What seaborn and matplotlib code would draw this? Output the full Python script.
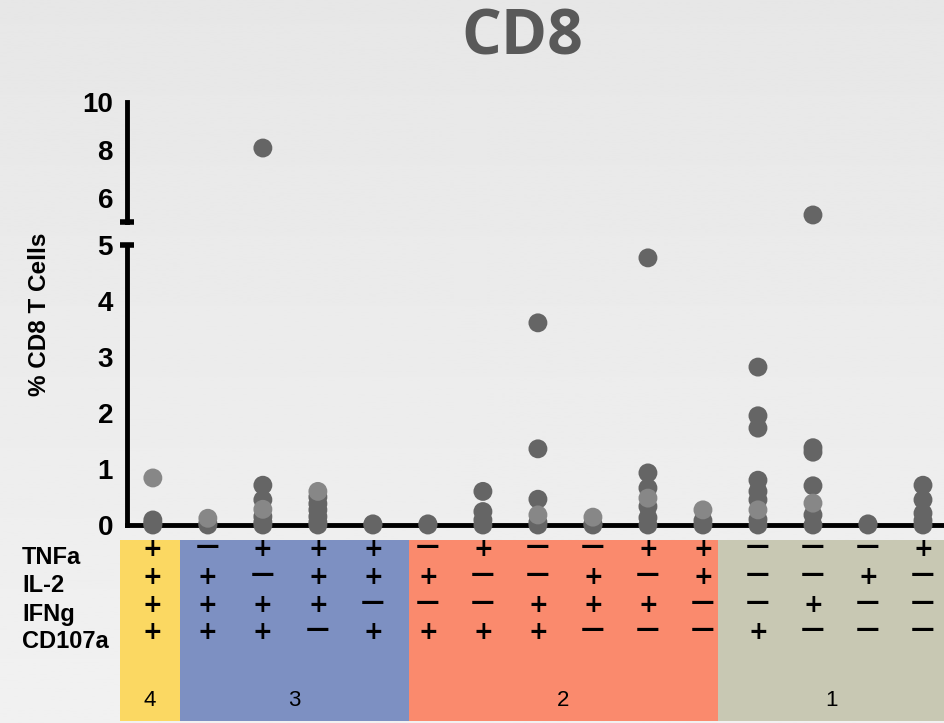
import numpy as np
import pandas as pd
import matplotlib
matplotlib.use("Agg")
import matplotlib.pyplot as plt
from matplotlib.patches import Rectangle
import seaborn as sns

# ---- data -------------------------------------------------------------
# 15 cytokine subsets (columns), marker pattern per row
markers = ["TNFa", "IL-2", "IFNg", "CD107a"]
tnfa   = ["+", "-", "+", "+", "+", "-", "+", "-", "-", "+", "+", "-", "-", "-", "+"]
il2    = ["+", "+", "-", "+", "+", "+", "-", "-", "+", "-", "+", "-", "-", "+", "-"]
ifng   = ["+", "+", "+", "+", "-", "-", "-", "+", "+", "+", "-", "-", "+", "-", "-"]
cd107a = ["+", "+", "+", "-", "+", "+", "+", "+", "-", "-", "-", "+", "-", "-", "-"]

# % CD8 T cells per subset (darker donors / lighter donors)
dark_vals = [
    [0.09, 0.03, 0.0],
    [0.03, 0.0],
    [8.07, 0.71, 0.45, 0.15, 0.05, 0.0],
    [0.50, 0.38, 0.27, 0.15, 0.05, 0.0],
    [0.02, 0.0],
    [0.02, 0.0],
    [0.60, 0.24, 0.09, 0.0],
    [3.61, 1.36, 0.46, 0.05, 0.0],
    [0.02, 0.0],
    [4.77, 0.93, 0.66, 0.33, 0.13, 0.0],
    [0.08, 0.0],
    [2.82, 1.95, 1.73, 0.80, 0.60, 0.45, 0.10, 0.0],
    [5.28, 1.38, 1.30, 0.70, 0.18, 0.0],
    [0.02, 0.0],
    [0.71, 0.45, 0.21, 0.08, 0.0],
]
light_vals = [
    [0.84], [0.12], [0.28], [0.60], [], [], [], [0.18], [0.14], [0.48],
    [0.27], [0.27], [0.39], [], [],
]

# functionality groups (number of positive markers) and their colours
group_labels = ["4", "3", "2", "1"]
group_members = [[0], [1, 2, 3, 4], [5, 6, 7, 8, 9, 10], [11, 12, 13, 14]]
group_colors = ["#FBD862", "#7D90C2", "#FA8A6D", "#C8C8B3"]

lower_ticks = [0, 1, 2, 3, 4, 5]
upper_ticks = [6, 8, 10]

# ---- long table ------------------------------------------------------
rows = []
for shade, vals in (("dark", dark_vals), ("light", light_vals)):
    for i, col in enumerate(vals):
        for v in col:
            rows.append({"subset": i, "pct": v, "shade": shade})
df = pd.DataFrame(rows)
palette = {"dark": "#656565", "light": "#878787"}

# ---- figure ------------------------------------------------------------
sns.set_style("white")
plt.rcParams["font.family"] = ["Liberation Sans", "DejaVu Sans"]

W, H = 945, 723
fig = plt.figure(figsize=(W / 100, H / 100), dpi=100)
fig.patch.set_facecolor("#E9E9E9")

# soft vertical background gradient
bg = fig.add_axes([0, 0, 1, 1], zorder=-10)
grad = np.linspace(0.905, 0.945, 256).reshape(-1, 1)
bg.imshow(grad, aspect="auto", cmap="gray", vmin=0, vmax=1,
          extent=[0, 1, 0, 1], origin="upper")
bg.set_axis_off()

def fx(px):
    return px / W

def fy(py):
    return 1 - py / H

ax_low = fig.add_axes([fx(127), fy(525), fx(W - 127), (525 - 245) / H])
ax_up = fig.add_axes([fx(127), fy(221.7), fx(W - 127), (221.7 - 101.7) / H])
for ax in (ax_low, ax_up):
    ax.set_facecolor("none")

xlim = (-0.47, 14.4)
lw_spine = 3.5
ink = "black"

# points below / above the break
low = df[df["pct"] <= 5]
up = df[df["pct"] > 5]
sns.scatterplot(data=low, x="subset", y="pct", hue="shade", palette=palette,
                s=185, linewidth=0, legend=False, ax=ax_low,
                zorder=10, clip_on=False)
sns.scatterplot(data=up, x="subset", y="pct", hue="shade", palette=palette,
                s=185, linewidth=0, legend=False, ax=ax_up,
                zorder=10, clip_on=False)

# lower axis
ax_low.set_xlim(*xlim)
ax_low.set_ylim(0, 5)
ax_low.set_yticks(lower_ticks)
ax_low.set_xticks(range(15))
ax_low.set_xticklabels([])
ax_low.set_xlabel("")
ax_low.set_ylabel("")
for s in ("top", "right"):
    ax_low.spines[s].set_visible(False)
for s in ("left", "bottom"):
    ax_low.spines[s].set_linewidth(lw_spine)
    ax_low.spines[s].set_color(ink)
ax_low.tick_params(axis="y", direction="out", length=7, width=3, pad=3,
                   labelsize=20, colors=ink)
ax_low.tick_params(axis="x", direction="out", length=7, width=3.5, colors=ink)
for t in ax_low.get_yticklabels():
    t.set_fontweight("bold")

# upper axis
ax_up.set_xlim(*xlim)
ax_up.set_ylim(5, 10)
ax_up.set_yticks(upper_ticks)
ax_up.set_xticks([])
ax_up.set_xlabel("")
ax_up.set_ylabel("")
for s in ("top", "right", "bottom"):
    ax_up.spines[s].set_visible(False)
ax_up.spines["left"].set_linewidth(lw_spine)
ax_up.spines["left"].set_color(ink)
ax_up.tick_params(axis="y", direction="out", length=7, width=3, pad=3,
                  labelsize=20, colors=ink)
for t in ax_up.get_yticklabels():
    t.set_fontweight("bold")

# break caps on both spine ends at 5
for ax in (ax_low, ax_up):
    ax.plot([0], [5], marker="_", markersize=10, markeredgewidth=4,
            color=ink, transform=ax.get_yaxis_transform(), clip_on=False,
            zorder=5)

# ---- marker table ------------------------------------------------------
units_per_px = (xlim[1] - xlim[0]) / (W - 127)
tab_xlim = (xlim[0] - 127 * units_per_px, xlim[1])
ax_tab = fig.add_axes([0, 0, 1, (H - 530) / H])
ax_tab.set_xlim(*tab_xlim)
ax_tab.set_ylim(H, 530)
ax_tab.set_axis_off()
ax_tab.set_facecolor("none")

# colour blocks per functionality group
edges = [-0.6, 0.5, 4.65, 10.27, xlim[1]]
for k, (lab, col) in enumerate(zip(group_labels, group_colors)):
    x0, x1 = edges[k], edges[k + 1]
    ax_tab.add_patch(Rectangle((x0, 540), x1 - x0, 181, facecolor=col,
                               edgecolor="none", zorder=1))
    ax_tab.text((x0 + x1) / 2, 701, lab, ha="center", va="center",
                fontsize=16, color="black", zorder=3)

# row labels
row_y = [558, 586, 614, 642]
for name, y in zip(markers, row_y):
    ax_tab.text(tab_xlim[0] + 22 * units_per_px, y, name, ha="left",
                va="center", fontsize=17, fontweight="bold", color="black")

# +/- signs, one text per cell
sign_y = [549, 577, 605, 632]
for signs, y in zip([tnfa, il2, ifng, cd107a], sign_y):
    for i, s in enumerate(signs):
        if s == "+":
            ax_tab.text(i, y, "+", ha="center", va="center", fontsize=17,
                        fontweight="bold", color="black", zorder=3,
                        family=["DejaVu Sans"])
        else:
            ax_tab.text(i, y - 3, "\u2014", ha="center", va="center",
                        fontsize=17, fontweight="bold", color="black",
                        zorder=3, family=["DejaVu Sans"])

# ---- titles --------------------------------------------------------------
fig.text(fx(522), fy(38), "CD8", ha="center", va="center", fontsize=45,
         fontweight="bold", color="#595959", family=["Open Sans", "DejaVu Sans"])
fig.text(fx(40), fy(314), "% CD8 T Cells", rotation=90, ha="center",
         va="center", fontsize=17.5, fontweight="bold", color="black")

fig.savefig("out.png", dpi=100, facecolor=fig.get_facecolor())
